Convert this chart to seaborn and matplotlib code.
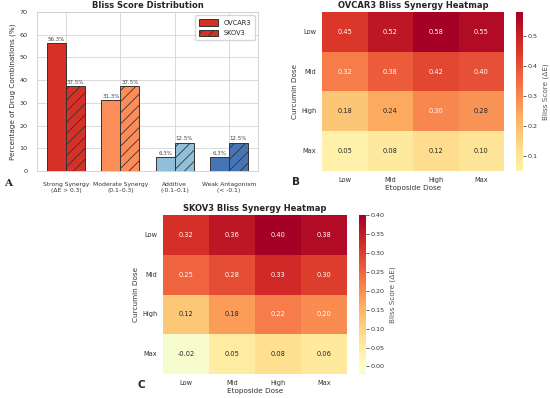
import numpy as np
import pandas as pd
import matplotlib
matplotlib.use("Agg")
import matplotlib.pyplot as plt
import seaborn as sns

categories = ["Strong Synergy\n(ΔE > 0.3)", "Moderate Synergy\n(0.1–0.3)", "Additive\n(-0.1–0.1)", "Weak Antagonism\n(< -0.1)"]
ovcar3_pct = [56.3, 31.3, 6.3, 6.3]
skov3_pct = [37.5, 37.5, 12.5, 12.5]
bar_colors = ["#d73027", "#fc8d59", "#91bfdb", "#4575b4"]

curcumin_doses = ["Low", "Mid", "High", "Max"]
etoposide_doses = ["Low", "Mid", "High", "Max"]
ovcar3_bliss = [[0.45, 0.52, 0.58, 0.55],
                [0.32, 0.38, 0.42, 0.40],
                [0.18, 0.24, 0.30, 0.28],
                [0.05, 0.08, 0.12, 0.10]]
skov3_bliss = [[0.32, 0.36, 0.40, 0.38],
               [0.25, 0.28, 0.33, 0.30],
               [0.12, 0.18, 0.22, 0.20],
               [-0.02, 0.05, 0.08, 0.06]]

sns.set_theme(style="whitegrid")
plt.rcParams['font.family'] = ['DejaVu Sans']

fig = plt.figure(figsize=(5.5, 3.98), dpi=100)

W, H = 550, 398
def rect(l, t, r, b):
    return [l / W, 1 - b / H, (r - l) / W, (b - t) / H]

TITLE = 6.0
TICK = 4.6
LABEL = 5.2

# Panel A
axA = fig.add_axes(rect(37, 12, 258, 171))
x = np.arange(len(categories))
w = 0.35
plt.rcParams['hatch.linewidth'] = 0.6
b1 = axA.bar(x - w / 2, ovcar3_pct, w, color=bar_colors, edgecolor="#333333", linewidth=0.7, label="OVCAR3")
b2 = axA.bar(x + w / 2, skov3_pct, w, color=bar_colors, edgecolor="#333333", linewidth=0.7, hatch="///", label="SKOV3")
for bars, vals in ((b1, ovcar3_pct), (b2, skov3_pct)):
    for rct, v in zip(bars, vals):
        axA.text(rct.get_x() + rct.get_width() / 2, v + 0.5, f"{v}%", ha="center", va="bottom", fontsize=4.0, color="#444444")
axA.set_ylim(0, 70)
axA.set_xticks(x)
axA.set_xticklabels(categories, fontsize=4.3, color="#333333")
axA.tick_params(axis="y", labelsize=TICK, pad=1, labelcolor="#333333")
axA.tick_params(axis="x", pad=2)
axA.set_ylabel("Percentage of Drug Combinations (%)", fontsize=LABEL, labelpad=2, color="#333333")
axA.set_title("Bliss Score Distribution", fontsize=TITLE, fontweight="bold", pad=3)
leg = axA.legend(fontsize=4.8, loc="upper right", frameon=True, handlelength=2.8, handleheight=1.1,
                 borderpad=0.6, labelspacing=0.6)
axA.grid(True, linewidth=0.5)
for s in axA.spines.values():
    s.set_linewidth(0.6)
fig.text(4 / W, 1 - 186 / H, "A", fontsize=7.5, fontweight="bold", family="DejaVu Serif")

def heat(ax, cax, data, title, label_xy, letter):
    df = pd.DataFrame(data, index=curcumin_doses, columns=etoposide_doses)
    sns.heatmap(df, ax=ax, cbar_ax=cax, cmap="RdYlBu_r", center=0, annot=True, fmt=".2f",
                annot_kws={"fontsize": 4.8}, cbar_kws={"label": "Bliss Score (ΔE)"})
    ax.set_title(title, fontsize=TITLE, fontweight="bold", pad=3)
    ax.set_xlabel("Etoposide Dose", fontsize=LABEL, labelpad=2, color="#333333")
    ax.set_ylabel("Curcumin Dose", fontsize=LABEL, labelpad=2, color="#333333")
    ax.tick_params(labelsize=TICK + 0.2, length=0, pad=4, labelcolor="#333333")
    ax.set_yticklabels(ax.get_yticklabels(), rotation=0)
    cax.tick_params(labelsize=TICK, length=2, width=0.5, pad=1, labelcolor="#333333")
    cax.yaxis.label.set_size(LABEL)
    cax.yaxis.label.set_color("#555555")
    for s in cax.spines.values():
        s.set_visible(False)
    fig.text(label_xy[0] / W, 1 - label_xy[1] / H, letter, fontsize=7.5, fontweight="bold")

axB = fig.add_axes(rect(322, 12, 504, 171))
caxB = fig.add_axes(rect(516, 12, 523, 171))
heat(axB, caxB, ovcar3_bliss, "OVCAR3 Bliss Synergy Heatmap", (292, 185), "B")

axC = fig.add_axes(rect(163, 215, 347, 374))
caxC = fig.add_axes(rect(359, 215, 366, 374))
heat(axC, caxC, skov3_bliss, "SKOV3 Bliss Synergy Heatmap", (137, 388), "C")

fig.savefig("out.png", dpi=100)
